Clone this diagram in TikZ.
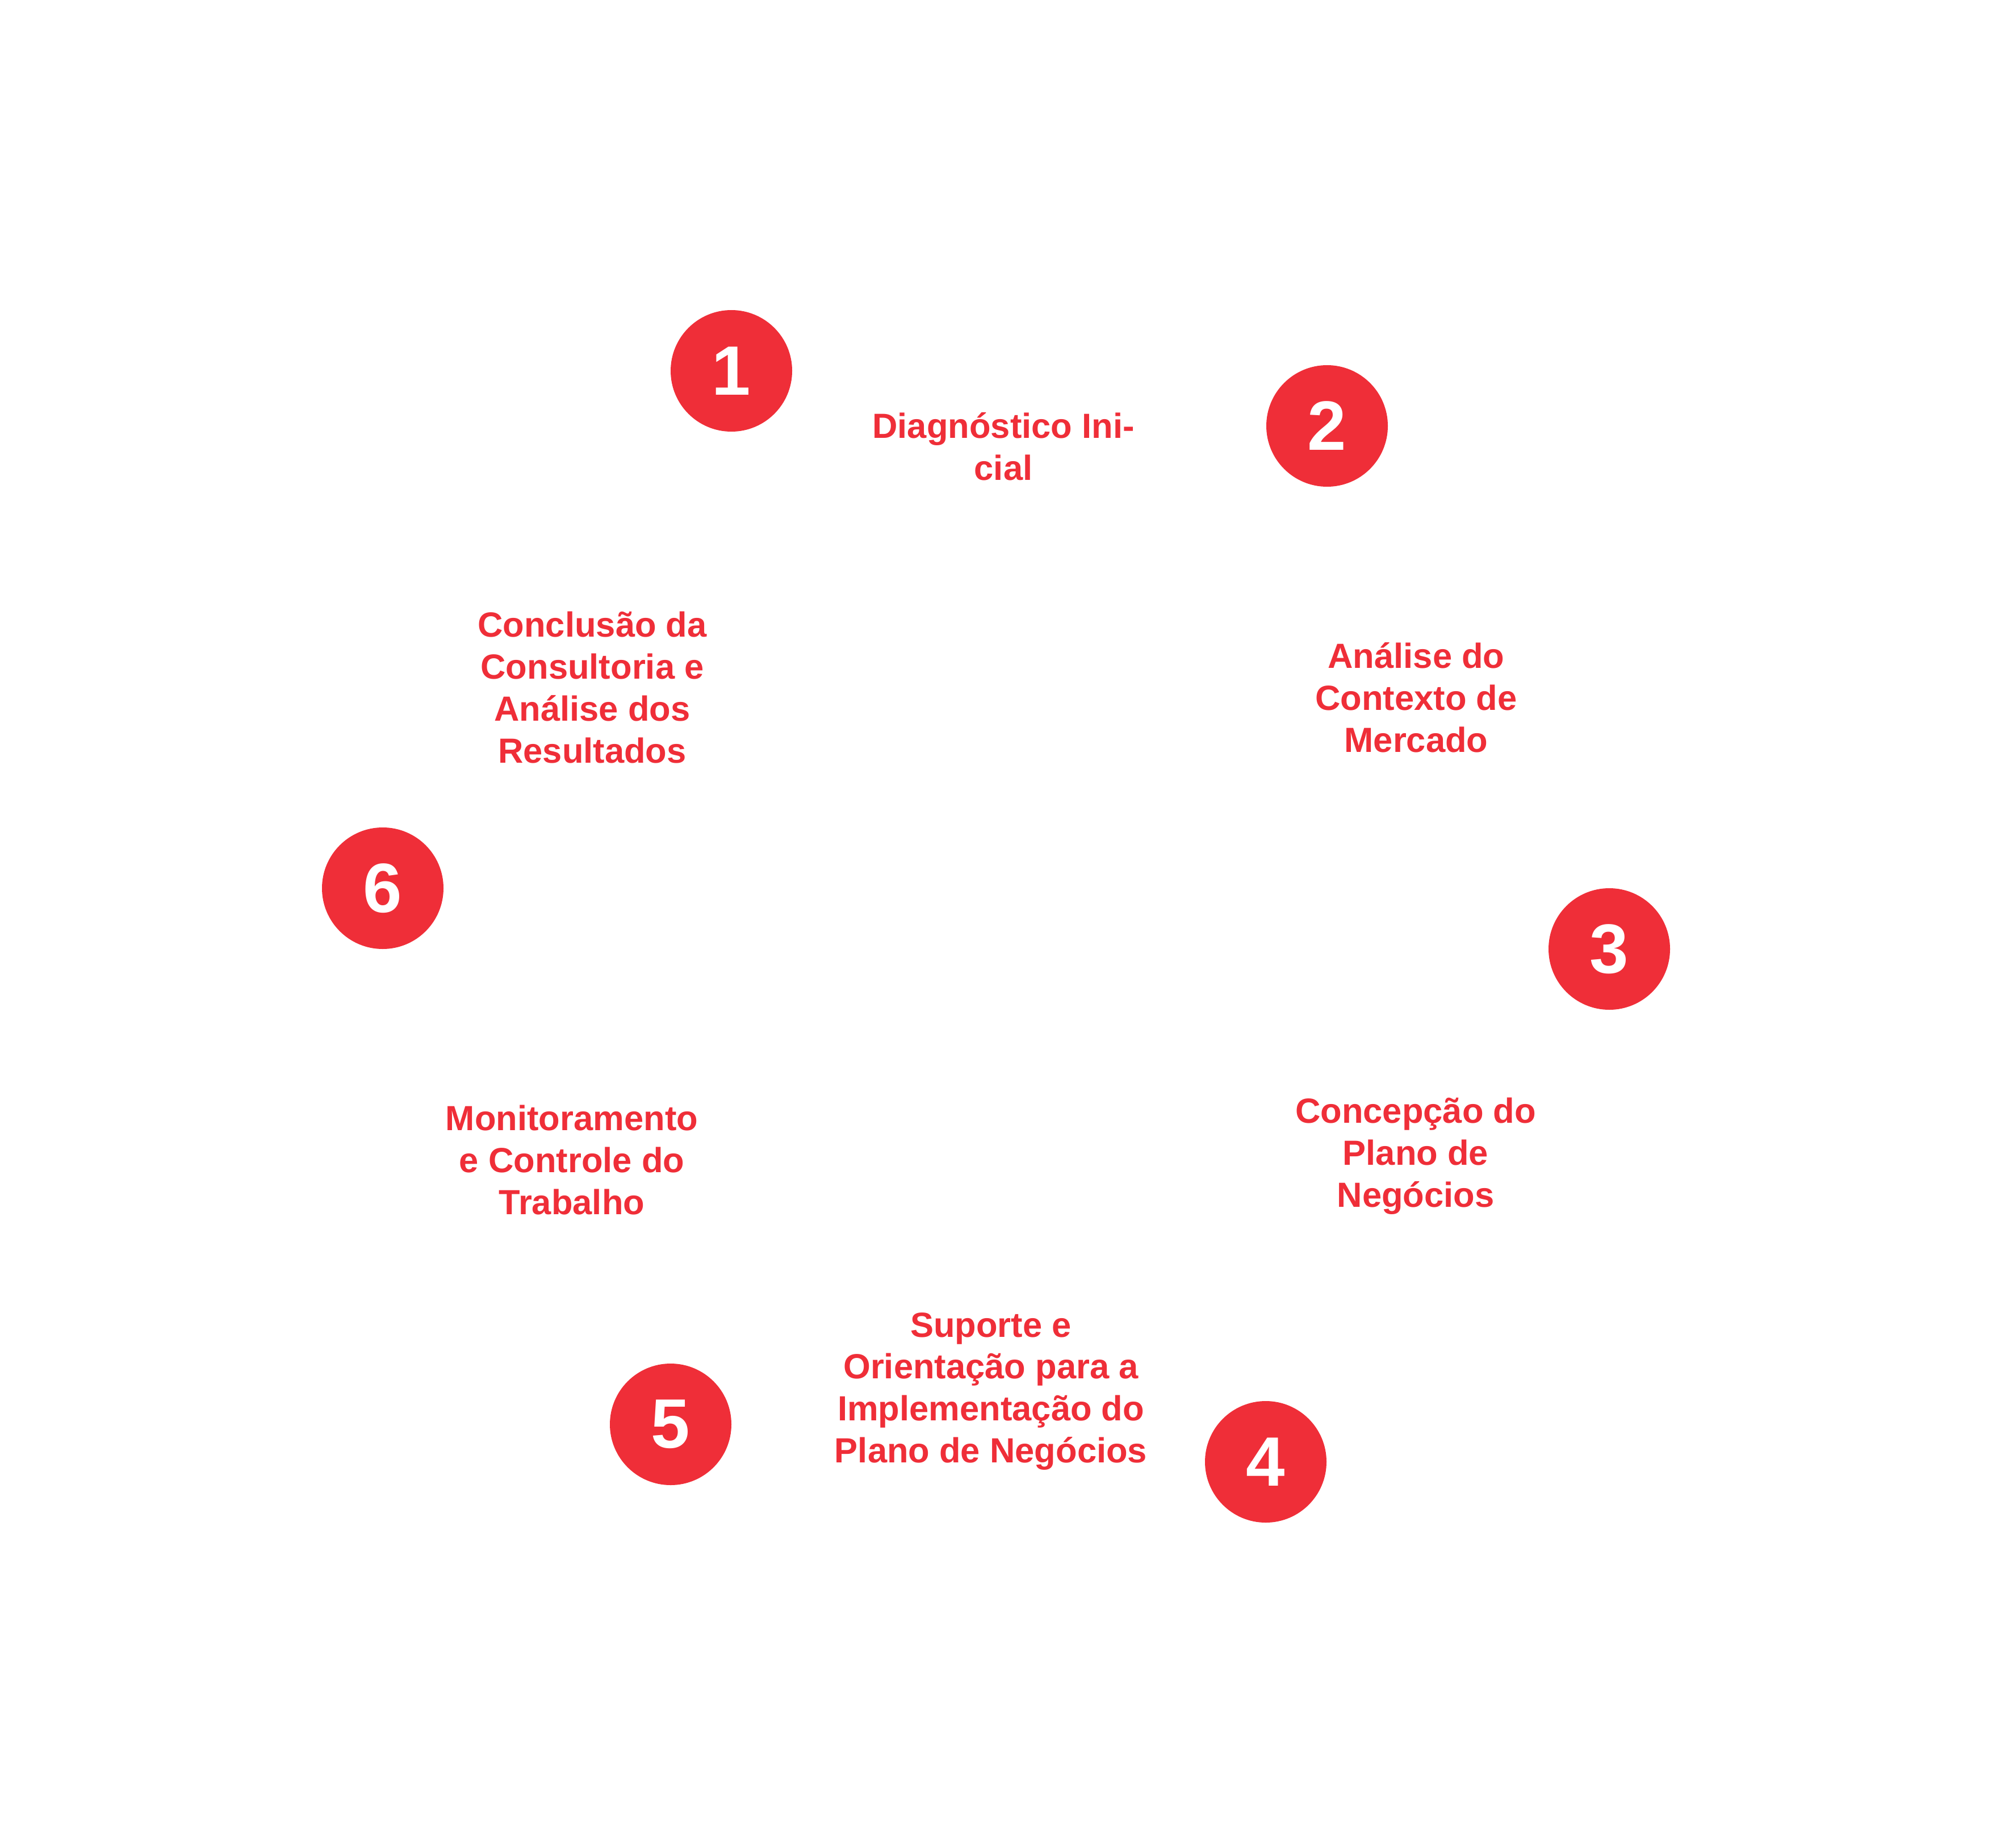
\documentclass[tikz,border=0pt]{standalone}
\usepackage{fontspec}
\setmainfont{Liberation Sans}
\definecolor{steprot}{RGB}{239,46,56}
\tikzset{
	stepdot/.style={circle, fill=steprot, text=white, inner sep=0pt, minimum size=2.14cm, font=\fontsize{35}{40}\selectfont\bfseries},
	steptext/.style={text=steprot, align=center, inner sep=0pt, anchor=base, font=\fontsize{17.5}{21}\selectfont\bfseries}
}

\begin{document}
\begin{tikzpicture}
			%%%%% START %%%%%
			\useasboundingbox (0, 0) rectangle (35.08, -32.54);
			
			\node[stepdot] (n1) at (12.88, -6.53) {1};
			\node[stepdot] (n2) at (23.37, -7.50) {2};
			\node[stepdot] (n3) at (28.34, -16.71) {3};
			\node[stepdot] (n4) at (22.29, -25.74) {4};
			\node[stepdot] (n5) at (11.81, -25.08) {5};
			\node[stepdot] (n6) at (6.74, -15.64) {6};
			
			% base = last line
			\node[steptext] (t1) at (17.67, -8.45) {Diagnóstico Ini-\\cial};
			\node[steptext] (t2) at (24.94, -13.245) {Análise do\\Contexto de\\Mercado};
			\node[steptext] (t3) at (24.93, -21.255) {Concepção do\\Plano de\\Negócios};
			\node[steptext] (t4) at (17.45, -25.755) {Suporte e\\Orientação para a\\Implementação do\\Plano de Negócios};
			\node[steptext] (t5) at (10.07, -21.38) {Monitoramento\\e Controle do\\Trabalho};
			\node[steptext] (t6) at (10.43, -13.43) {Conclusão da\\Consultoria e\\Análise dos\\Resultados};
			
			%%%%% END %%%%%
\end{tikzpicture}
\end{document}
